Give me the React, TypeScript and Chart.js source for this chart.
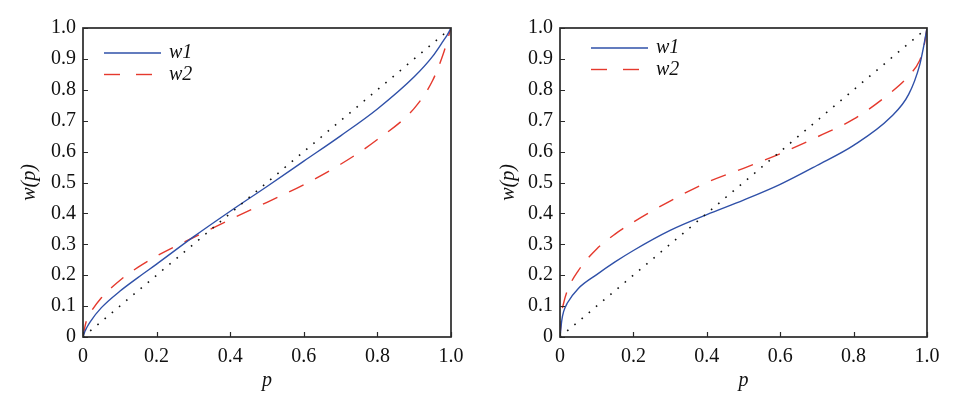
import React, { useEffect, useRef } from "react";
import { Chart, registerables } from "chart.js";

Chart.register(...registerables);

// probability grid (x values)
const P = [0, 0.005, 0.01, 0.02, 0.05, 0.1, 0.15, 0.2, 0.3, 0.4, 0.5, 0.6, 0.7, 0.8, 0.9, 0.95, 0.98, 0.99, 1];
// left panel
const leftW1 = [0, 0.018, 0.03, 0.05, 0.095, 0.148, 0.193, 0.236, 0.324, 0.407, 0.487, 0.569, 0.651, 0.738, 0.842, 0.908, 0.96, 0.978, 1];
const leftW2 = [0, 0.032, 0.055, 0.078, 0.127, 0.183, 0.226, 0.262, 0.322, 0.38, 0.436, 0.493, 0.559, 0.639, 0.74, 0.83, 0.92, 0.96, 1];
// right panel
const rightW1 = [0, 0.055, 0.083, 0.11, 0.157, 0.202, 0.243, 0.28, 0.345, 0.396, 0.443, 0.494, 0.555, 0.62, 0.71, 0.785, 0.88, 0.935, 1];
const rightW2 = [0, 0.08, 0.11, 0.15, 0.215, 0.285, 0.333, 0.372, 0.44, 0.5, 0.546, 0.593, 0.647, 0.705, 0.79, 0.845, 0.895, 0.93, 1];
// reference diagonal
const diagP = [0, 1];
const diagW = [0, 1];

const seriesNames = ["w1", "w2"];
const xTickLabels = ["0", "0.2", "0.4", "0.6", "0.8", "1.0"];
const yTickLabels = ["0", "0.1", "0.2", "0.3", "0.4", "0.5", "0.6", "0.7", "0.8", "0.9", "1.0"];
const xTitle = "p";
const yTitle = "w(p)";

const SERIF = "'Liberation Serif', 'Times New Roman', serif";
const BLUE = "#2f50a8";
const RED = "#e5392d";

const pts = (xs: number[], ys: number[]) => xs.map((x, i) => ({ x, y: ys[i] }));

const framePlugin = {
  id: "frameTicks",
  afterDatasetsDraw(chart: any) {
    const { ctx, chartArea } = chart;
    const { left, right, top, bottom } = chartArea;
    ctx.save();
    ctx.strokeStyle = "#2a2a2a";
    ctx.lineWidth = 1.2;
    const xs = chart.scales.x;
    const ys = chart.scales.y;
    ctx.beginPath();
    xs.ticks.forEach((t: any) => {
      const px = Math.round(xs.getPixelForValue(t.value)) + 0.5;
      ctx.moveTo(px, bottom);
      ctx.lineTo(px, bottom - 5);
    });
    ys.ticks.forEach((t: any) => {
      const py = Math.round(ys.getPixelForValue(t.value)) + 0.5;
      ctx.moveTo(left, py);
      ctx.lineTo(left + 5, py);
    });
    ctx.stroke();
    ctx.lineWidth = 1.7;
    ctx.strokeStyle = "#2a2a2a";
    ctx.strokeRect(left, top, right - left, bottom - top);
    ctx.restore();
  },
};

const legendPlugin = {
  id: "innerLegend",
  afterDatasetsDraw(chart: any, _args: any, opts: any) {
    const { ctx, chartArea } = chart;
    const x0 = chartArea.left + opts.dx;
    let y = chartArea.top + opts.dy;
    ctx.save();
    chart.data.datasets.forEach((ds: any) => {
      if (!ds.label) return;
      ctx.beginPath();
      ctx.strokeStyle = ds.borderColor;
      ctx.lineWidth = 1.4;
      ctx.setLineDash(ds.borderDash && ds.borderDash.length ? [16, 16] : []);
      ctx.moveTo(x0, y);
      ctx.lineTo(x0 + 57, y);
      ctx.stroke();
      ctx.setLineDash([]);
      ctx.fillStyle = "#111";
      ctx.font = "italic 20px " + SERIF;
      ctx.textBaseline = "middle";
      ctx.textAlign = "left";
      ctx.fillText(ds.label, x0 + 65, y);
      y += opts.rowGap;
    });
    ctx.restore();
  },
};

type PanelProps = {
  w1: number[];
  w2: number[];
  yAxisWidth: number;
  padRight: number;
  yTitlePad: number;
  legendDx: number;
  legendDy: number;
};

function Panel(props: PanelProps) {
  const ref = useRef<HTMLCanvasElement | null>(null);
  useEffect(() => {
    if (!ref.current) return;
    const chart = new Chart(ref.current, {
      type: "line",
      data: {
        datasets: [
          {
            label: "",
            data: pts(diagP, diagW),
            borderColor: "#111",
            borderWidth: 1.6,
            borderDash: [1.6, 7.8],
            pointRadius: 0,
            fill: false,
          },
          {
            label: seriesNames[0],
            data: pts(P, props.w1),
            borderColor: BLUE,
            borderWidth: 1.4,
            pointRadius: 0,
            cubicInterpolationMode: "monotone",
            fill: false,
          },
          {
            label: seriesNames[1],
            data: pts(P, props.w2),
            borderColor: RED,
            borderWidth: 1.4,
            borderDash: [16, 13],
            pointRadius: 0,
            cubicInterpolationMode: "monotone",
            fill: false,
          },
        ],
      } as any,
      options: {
        responsive: false,
        animation: false,
        events: [],
        layout: { padding: { top: 28, right: props.padRight, left: 0, bottom: 0 } },
        plugins: {
          legend: { display: false },
          tooltip: { enabled: false },
          innerLegend: { dx: props.legendDx, dy: props.legendDy, rowGap: 21.5 },
        } as any,
        scales: {
          x: {
            type: "linear",
            min: 0,
            max: 1,
            afterFit: (s: any) => {
              s.height = 62;
            },
            grid: { display: false, drawTicks: false },
            border: { display: false },
            ticks: {
              stepSize: 0.2,
              autoSkip: false,
              maxRotation: 0,
              padding: 8,
              color: "#111",
              font: { family: SERIF, size: 20 },
              callback: (_v: any, i: number) => xTickLabels[i],
            },
            title: {
              display: true,
              text: xTitle,
              color: "#111",
              font: { family: SERIF, size: 20, style: "italic" },
              padding: { top: 0, bottom: 6 },
            },
          },
          y: {
            type: "linear",
            min: 0,
            max: 1,
            afterFit: (s: any) => {
              s.width = props.yAxisWidth;
            },
            grid: { display: false, drawTicks: false },
            border: { display: false },
            ticks: {
              stepSize: 0.1,
              autoSkip: false,
              padding: 7,
              color: "#111",
              font: { family: SERIF, size: 20 },
              callback: (_v: any, i: number) => yTickLabels[i],
            },
            title: {
              display: true,
              text: yTitle,
              color: "#111",
              font: { family: SERIF, size: 20, style: "italic" },
              padding: { top: props.yTitlePad, bottom: 0 },
            },
          },
        },
      } as any,
      plugins: [framePlugin, legendPlugin],
    });
    return () => chart.destroy();
  }, []);
  return <canvas ref={ref} width={489} height={399} style={{ display: "block", width: 489, height: 399 }} />;
}

export default function App() {
  return (
    <div style={{ position: "absolute", left: 0, top: 0, width: 978, height: 399, display: "flex", background: "#fff" }}>
      <Panel w1={leftW1} w2={leftW2} yAxisWidth={83} padRight={38} yTitlePad={18} legendDx={21} legendDy={25} />
      <Panel w1={rightW1} w2={rightW2} yAxisWidth={71} padRight={51} yTitlePad={8} legendDx={31} legendDy={20} />
    </div>
  );
}
